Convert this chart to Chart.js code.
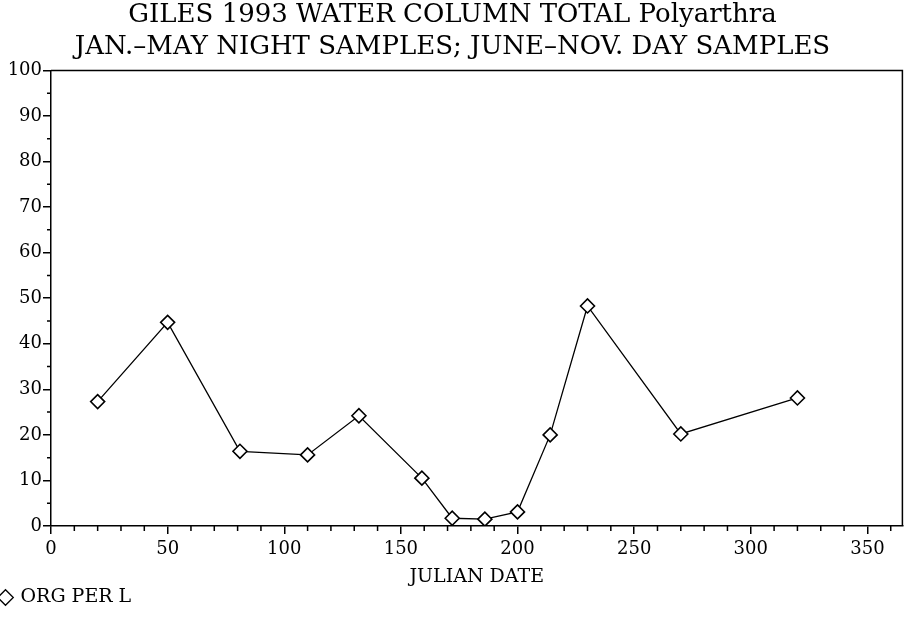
<!DOCTYPE html>
<html><head><meta charset="utf-8">
<script src="https://cdn.jsdelivr.net/npm/chart.js@4/dist/chart.umd.min.js"></script>
<style>html,body{margin:0;padding:0;background:#fff}#wrap{width:911px;height:617px}canvas{display:block}</style>
</head><body><div id="wrap"><canvas id="c" width="911" height="617"></canvas></div>
<script>
const titleLines = ['GILES 1993 WATER COLUMN TOTAL Polyarthra', 'JAN.\u2013MAY NIGHT SAMPLES; JUNE\u2013NOV. DAY SAMPLES'];
const julianDates = [20, 50, 81, 110, 132, 159, 172, 186, 200, 214, 230, 270, 320];
const orgPerL = [27.3, 44.7, 16.4, 15.6, 24.2, 10.5, 1.7, 1.5, 3.1, 20.0, 48.3, 20.2, 28.1];
const xTicks = [0, 50, 100, 150, 200, 250, 300, 350];
const yTicks = [0, 10, 20, 30, 40, 50, 60, 70, 80, 90, 100];
const xMinorTicks = [10, 20, 30, 40, 60, 70, 80, 90, 110, 120, 130, 140, 160, 170, 180, 190, 210, 220, 230, 240, 260, 270, 280, 290, 310, 320, 330, 340, 360];
const yMinorTicks = [5, 15, 25, 35, 45, 55, 65, 75, 85, 95];
const xTitle = 'JULIAN DATE';
const seriesName = 'ORG PER L';

const FONT = 'DejaVu Serif';

const minorTicks = {
  id: 'minorTicks',
  afterDraw(chart) {
    const ctx = chart.ctx, xs = chart.scales.x, ys = chart.scales.y, a = chart.chartArea;
    ctx.save();
    ctx.strokeStyle = '#000';
    ctx.lineWidth = 1.5;
    ctx.beginPath();
    xMinorTicks.forEach(v => { const p = xs.getPixelForValue(v); ctx.moveTo(p, a.bottom); ctx.lineTo(p, a.bottom + 5); });
    yMinorTicks.forEach(v => { const p = ys.getPixelForValue(v); ctx.moveTo(a.left - 4, p); ctx.lineTo(a.left, p); });
    ctx.stroke();
    ctx.beginPath();
    ctx.moveTo(a.left, a.top); ctx.lineTo(a.right, a.top); ctx.lineTo(a.right, a.bottom);
    ctx.stroke();
    ctx.restore();
  }
};

new Chart(document.getElementById('c'), {
  type: 'line',
  data: {
    datasets: [{
      label: seriesName,
      data: julianDates.map((x, i) => ({ x, y: orgPerL[i] })),
      borderColor: '#000',
      borderWidth: 1.3,
      backgroundColor: '#fff',
      pointStyle: 'rectRot',
      pointRadius: 7,
      pointBorderWidth: 1.6,
      pointBackgroundColor: '#fff',
      pointBorderColor: '#000',
      tension: 0,
      fill: false
    }]
  },
  options: {
    responsive: false,
    animation: false,
    devicePixelRatio: 1,
    layout: { padding: { left: 0, right: 6, top: 0, bottom: 0 } },
    plugins: {
      title: {
        display: true,
        text: titleLines,
        color: '#000',
        font: { family: FONT, size: 26, weight: 'normal', lineHeight: 1.2 },
        padding: { top: 0, bottom: 8 }
      },
      legend: {
        display: true,
        position: 'bottom',
        align: 'start',
        labels: {
          color: '#000',
          font: { family: FONT, size: 19 },
          usePointStyle: true,
          boxWidth: 11,
          boxHeight: 11,
          padding: 0,
          generateLabels: (chart) => [{
            text: seriesName, pointStyle: 'rectRot', fillStyle: '#fff', strokeStyle: '#000', lineWidth: 1.3, fontColor: '#000', datasetIndex: 0
          }]
        }
      },
      tooltip: { enabled: false }
    },
    scales: {
      x: {
        type: 'linear',
        min: 0, max: 365,
        afterBuildTicks: s => { s.ticks = xTicks.map(v => ({ value: v })); },
        afterFit: s => { s.height = 62; },
        grid: { drawOnChartArea: false, drawTicks: true, tickLength: 8, color: '#000', lineWidth: 1.5 },
        border: { display: true, color: '#000', width: 1.5 },
        ticks: { color: '#000', font: { family: FONT, size: 18 }, padding: 5, maxRotation: 0, autoSkip: false },
        title: { display: true, text: xTitle, color: '#000', font: { family: FONT, size: 19 }, padding: { top: 0, bottom: 0 } }
      },
      y: {
        type: 'linear',
        min: 0, max: 100,
        afterBuildTicks: s => { s.ticks = yTicks.map(v => ({ value: v })); },
        afterFit: s => { s.width = 51; },
        grid: { drawOnChartArea: false, drawTicks: true, tickLength: 8, color: '#000', lineWidth: 1.5 },
        border: { display: true, color: '#000', width: 1.5 },
        ticks: { color: '#000', font: { family: FONT, size: 18 }, padding: 1 }
      }
    }
  },
  plugins: [minorTicks]
});
</script>
</body></html>
